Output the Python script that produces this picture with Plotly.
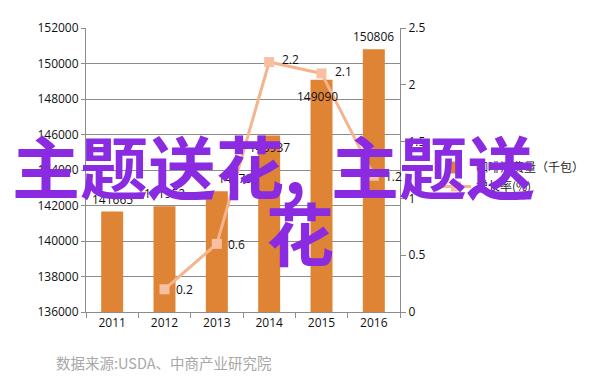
import plotly.graph_objects as go

years = ["2011", "2012", "2013", "2014", "2015", "2016"]
consumption = [141665, 141952, 142796, 145937, 149090, 150806]
growth_years = ["2012", "2013", "2014", "2015", "2016"]
growth = [0.2, 0.6, 2.2, 2.1, 1.2]

bar_name = "咖啡消费量（千包）"
line_name = "增长率(%)"
source_text = "数据来源:USDA、中商产业研究院"
overlay_part1 = "主题送花,"
overlay_part2 = "主题送"
overlay_part3 = "花"

bar_color = "#DF8434"
line_color = "#F5B48C"
grid_color = "#8C8C8C"
purple = "#8A2BE2"

# page body has an 8px default margin; target plot box in screen px
OFF = 8
PL, PR, PT, PB = 86, 400, 28, 312
W, H = 602, 384


def px(xs):
    return (xs - PL) / (PR - PL)


def py(ys):
    return (PB - ys) / (PB - PT)


xpos = list(range(len(years)))
gpos = [years.index(y) for y in growth_years]

fig = go.Figure()
fig.add_trace(go.Bar(
    x=xpos, y=consumption, name=bar_name,
    marker=dict(color=bar_color, line=dict(width=0)),
    yaxis="y",
))
fig.add_trace(go.Scatter(
    x=gpos, y=growth, name=line_name, yaxis="y2",
    mode="lines+markers",
    line=dict(color=line_color, width=3),
    marker=dict(symbol="square", size=10, color="#F8C0A0"),
))

lbl_font = dict(size=12, color="#111", family="Open Sans")
bar_offsets = [(0, 12), (0, 13), (22, 13), (0, -12), (-4, -17), (0, 13)]
for x, v, (dx, dy) in zip(xpos, consumption, bar_offsets):
    fig.add_annotation(x=x, y=v, xref="x", yref="y", text=str(v),
                       showarrow=False, xshift=dx, yshift=dy, font=lbl_font)
line_offsets = [(20, 0), (20, -1), (21, 3), (22, 2), (20, -1)]
for x, v, (dx, dy) in zip(gpos, growth, line_offsets):
    fig.add_annotation(x=x, y=v, xref="x", yref="y2", text=str(v),
                       showarrow=False, xshift=dx, yshift=dy, font=lbl_font)

fig.add_annotation(x=px(54), y=py(362), xref="paper", yref="paper",
                   text=source_text, showarrow=False, xanchor="left", yanchor="middle",
                   font=dict(size=14.5, color="#A8A8A8", family="Noto Sans CJK SC"))

big = dict(size=68, color=purple, family="Noto Sans CJK SC")
fig.add_annotation(x=px(10), y=py(164), xref="paper", yref="paper",
                   text="<b>" + overlay_part1 + "</b>", showarrow=False,
                   xanchor="left", yanchor="middle", font=big)
fig.add_annotation(x=px(329), y=py(164), xref="paper", yref="paper",
                   text="<b>" + overlay_part2 + "</b>", showarrow=False,
                   xanchor="left", yanchor="middle", font=big)
fig.add_annotation(x=px(300), y=py(232), xref="paper", yref="paper",
                   text="<b>" + overlay_part3 + "</b>", showarrow=False,
                   xanchor="center", yanchor="middle", font=big)

boundaries = [p - 0.5 for p in xpos] + [xpos[-1] + 0.5]

fig.update_layout(
    width=W, height=H,
    margin=dict(l=PL - OFF, r=W - PR + OFF, t=PT - OFF, b=H - PB + OFF),
    paper_bgcolor="white", plot_bgcolor="white",
    bargap=0.58,
    showlegend=True,
    legend=dict(x=px(436), y=py(153), xanchor="left", yanchor="top",
                font=dict(size=12, color="#222", family="Noto Sans CJK SC"),
                bgcolor="rgba(0,0,0,0)", tracegroupgap=2),
    xaxis=dict(range=[-0.5, len(years) - 0.5], tickvals=xpos, ticktext=years,
               showline=True, linecolor=grid_color, ticks="", showgrid=False,
               zeroline=False, tickangle=0,
               minor=dict(tickvals=boundaries, ticks="outside", ticklen=5,
                          tickcolor=grid_color, showgrid=False),
               tickfont=lbl_font),
    yaxis=dict(range=[136000, 152000], dtick=2000, showline=True, linecolor=grid_color,
               ticks="outside", ticklen=4, tickcolor=grid_color,
               gridcolor=grid_color, gridwidth=1, zeroline=False,
               tickfont=lbl_font, tickformat="d"),
    yaxis2=dict(range=[0, 2.5], dtick=0.5, overlaying="y", side="right",
                showline=True, linecolor=grid_color, ticks="outside", ticklen=5,
                tickcolor=grid_color, showgrid=False, zeroline=False,
                tickfont=lbl_font),
    font=dict(family="Open Sans"),
)

fig.write_html("out.html")
